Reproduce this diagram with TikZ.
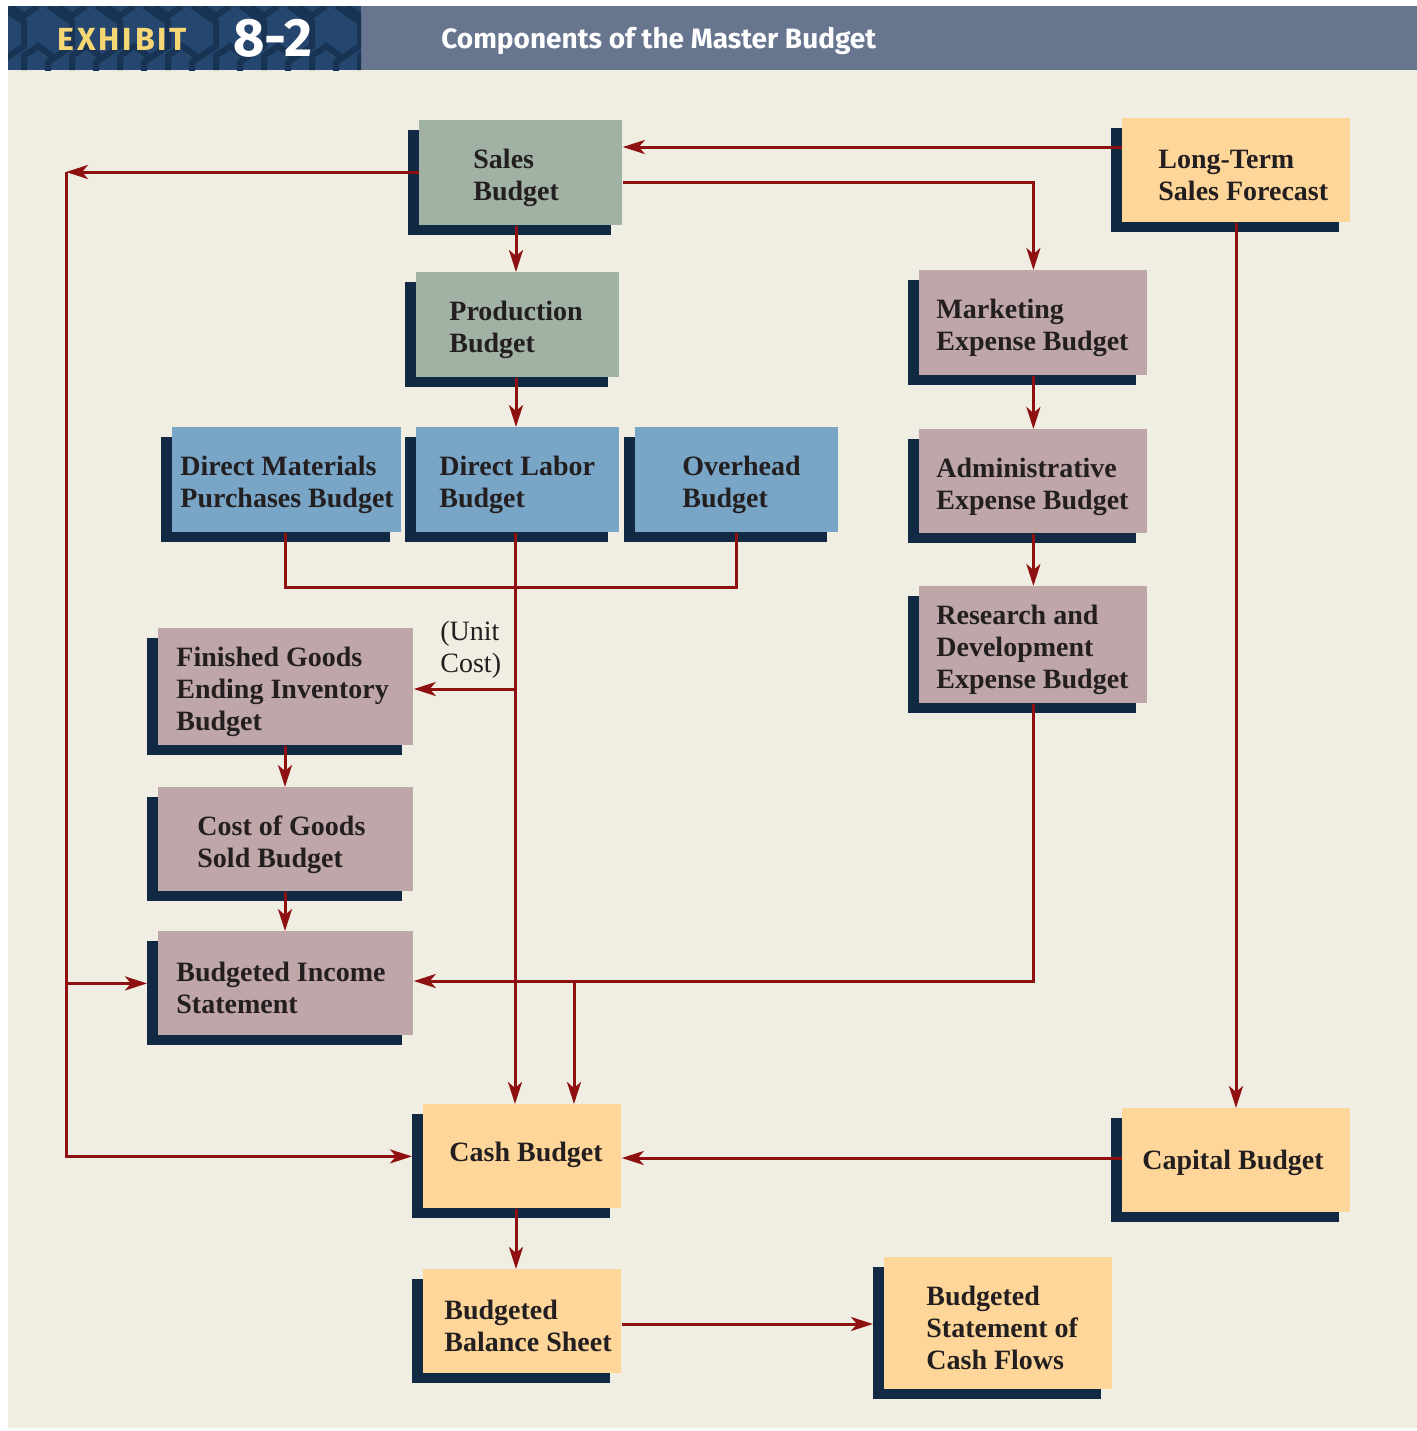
\documentclass[tikz,border=0pt]{standalone}
\usepackage{fontspec}
\setmainfont{Liberation Serif}
\newfontfamily\bandfont{Fira Sans}
\newfontfamily\exfont{Fira Sans}[LetterSpace=9]
\usetikzlibrary{arrows.meta,positioning,shadows}

\definecolor{pagebeige}{HTML}{F0EDE2}
\definecolor{bandgray}{HTML}{67758F}
\definecolor{bandnavy}{HTML}{25466E}
\definecolor{mazenavy}{HTML}{193354}
\definecolor{exyellow}{HTML}{F7D774}
\definecolor{salesgreen}{HTML}{A1B2A5}
\definecolor{costblue}{HTML}{79A5C7}
\definecolor{expmauve}{HTML}{BFA6A9}
\definecolor{cashyellow}{HTML}{FFD699}
\definecolor{shadownavy}{HTML}{112942}
\definecolor{flowred}{HTML}{8E1010}
\definecolor{inkgray}{HTML}{231F20}

\tikzset{
  budget/.style={anchor=north west, inner sep=0pt,
    drop shadow={shadow xshift=-5.5pt, shadow yshift=-5pt, fill=shadownavy, opacity=1}},
  txt/.style={inner sep=0pt, align=left, text=inkgray, yshift=-2.5pt,
    font=\fontsize{14}{16}\selectfont\bfseries},
  flow/.style={draw=flowred, line width=1.5pt},
  arr/.style={flow, -{Stealth[length=11pt,width=7pt,inset=3pt]}}
}

\begin{document}
\begin{tikzpicture}[x=0.5pt,y=-0.5pt]
  \useasboundingbox (0,0) rectangle (1417,1431);
  % page and title band
  \fill[pagebeige] (8,70) rectangle (1417,1428);
  \fill[bandgray] (361,6) rectangle (1417,70);
  \fill[bandnavy] (8,6) rectangle (361,70);
  \begin{scope}
    \clip (8,6) rectangle (361,70);
    \foreach \i in {-2,...,8}
      \draw[mazenavy, line width=3pt]
        (\i*48,6) -- ++(24,16) -- ++(0,24) -- ++(-24,16) -- ++(0,14);
    \foreach \i in {-2,...,8}
      \draw[mazenavy, line width=3pt]
        (\i*48+24,70) -- ++(0,-14) -- ++(14,-10) -- ++(14,10) (\i*48+10,6) -- ++(14,10) -- ++(14,-10);
  \end{scope}
  \node (exhibit) [anchor=base west, inner sep=0pt, text=exyellow,
    font=\exfont\bfseries\fontsize{16}{16}\selectfont] at (57,50) {EXHIBIT};
  \node (exno) [anchor=base west, inner sep=0pt, text=white,
    font=\bandfont\bfseries\fontsize{27}{27}\selectfont] at (233,56) {8-2};
  \node (title) [anchor=base west, inner sep=0pt, text=white,
    font=\bandfont\bfseries\fontsize{14}{14}\selectfont] at (441,48) {Components of the Master Budget};

  % budget boxes
  \node (sales) [budget, fill=salesgreen, minimum width=101.5pt, minimum height=52.5pt] at (419,120) {};
  \node (ltsf) [budget, fill=cashyellow, minimum width=114pt, minimum height=52pt] at (1122,118) {};
  \node (prod) [budget, fill=salesgreen, minimum width=101.5pt, minimum height=52.5pt] at (416,272) {};
  \node (mkt) [budget, fill=expmauve, minimum width=114pt, minimum height=52.5pt] at (919,270) {};
  \node (dm) [budget, fill=costblue, minimum width=114.5pt, minimum height=52.5pt] at (172,427) {};
  \node (dl) [budget, fill=costblue, minimum width=101.5pt, minimum height=52.5pt] at (416,427) {};
  \node (oh) [budget, fill=costblue, minimum width=101.5pt, minimum height=52.5pt] at (635,427) {};
  \node (adm) [budget, fill=expmauve, minimum width=114pt, minimum height=52pt] at (919,429) {};
  \node (rd) [budget, fill=expmauve, minimum width=114pt, minimum height=58.5pt] at (919,586) {};
  \node (fg) [budget, fill=expmauve, minimum width=127.5pt, minimum height=58.5pt] at (158,628) {};
  \node (cogs) [budget, fill=expmauve, minimum width=127.5pt, minimum height=52pt] at (158,787) {};
  \node (bis) [budget, fill=expmauve, minimum width=127.5pt, minimum height=52pt] at (158,931) {};
  \node (cash) [budget, fill=cashyellow, minimum width=99pt, minimum height=52pt] at (423,1104) {};
  \node (cap) [budget, fill=cashyellow, minimum width=114pt, minimum height=52pt] at (1122,1108) {};
  \node (bbs) [budget, fill=cashyellow, minimum width=99pt, minimum height=52pt] at (423,1269) {};
  \node (bscf) [budget, fill=cashyellow, minimum width=114pt, minimum height=66pt] at (884,1257) {};

  % box texts
  \node (sales-t) [txt, right=27pt of sales.west] {Sales\\Budget};
  \node (ltsf-t) [txt, right=18pt of ltsf.west] {Long-Term\\Sales Forecast};
  \node (prod-t) [txt, right=16.5pt of prod.west] {Production\\Budget};
  \node (mkt-t) [txt, right=8.5pt of mkt.west] {Marketing\\Expense Budget};
  \node (dm-t) [txt, right=4pt of dm.west] {Direct Materials\\Purchases Budget};
  \node (dl-t) [txt, right=11.5pt of dl.west] {Direct Labor\\Budget};
  \node (oh-t) [txt, right=23.5pt of oh.west] {Overhead\\Budget};
  \node (adm-t) [txt, right=8.5pt of adm.west] {Administrative\\Expense Budget};
  \node (rd-t) [txt, right=8.5pt of rd.west] {Research and\\Development\\Expense Budget};
  \node (fg-t) [txt, right=9pt of fg.west] {Finished Goods\\Ending Inventory\\Budget};
  \node (cogs-t) [txt, right=19.5pt of cogs.west] {Cost of Goods\\Sold Budget};
  \node (bis-t) [txt, right=9pt of bis.west] {Budgeted Income\\Statement};
  \node (cash-t) [txt, right=13pt of cash.west, yshift=3.5pt] {Cash Budget};
  \node (cap-t) [txt, right=10pt of cap.west, yshift=1.5pt] {Capital Budget};
  \node (bbs-t) [txt, right=10.5pt of bbs.west] {Budgeted\\Balance Sheet};
  \node (bscf-t) [txt, right=21pt of bscf.west] {Budgeted\\Statement of\\Cash Flows};
  \node (unitcost) [anchor=north west, inner sep=0pt, align=left, text=inkgray,
    font=\fontsize{14}{16}\selectfont] at (440,621) {(Unit\\Cost)};

  % flows
  \coordinate (lrail) at (66,172);
  \draw[arr] (ltsf.west |- 0,147) -- (sales.east |- 0,147);
  \draw[arr] (sales.east |- 0,182) -| (mkt.north);
  \draw[arr] (sales.west |- lrail) -- (lrail);
  \draw[arr] (lrail) |- ([xshift=-5.5pt]cash.west);
  \draw[arr] (lrail |- bis.west) -- ([xshift=-5.5pt]bis.west);
  \draw[arr] (sales.south -| 516,0) -- (prod.north -| 516,0);
  \draw[arr] (prod.south -| 516,0) -- (dl.north -| 516,0);
  \draw[arr] (mkt) -- (adm);
  \draw[arr] (adm) -- (rd);
  \draw[flow] (dm.south -| 285,0) -- (285,587) -- (736,587) -- (oh.south -| 736,0);
  \draw[arr] (dl.south -| 515,0) -- (cash.north -| 515,0);
  \draw[arr] (515,689) -- (fg.east |- 0,689);
  \draw[arr] (fg.south -| 285,0) -- (cogs.north -| 285,0);
  \draw[arr] (cogs.south -| 285,0) -- (bis.north -| 285,0);
  \draw[arr] (rd.south) |- (bis.east |- 0,981);
  \draw[arr] (574,981) -- (cash.north -| 574,0);
  \draw[arr] (ltsf.south -| 1236,0) -- (cap.north -| 1236,0);
  \draw[arr] (cap.west |- 0,1158) -- (cash.east |- 0,1158);
  \draw[arr] (cash.south -| 516,0) -- (bbs.north -| 516,0);
  \draw[arr] (bbs.east |- 0,1324) -- ([xshift=-5.5pt]bscf.west |- 0,1324);
\end{tikzpicture}
\end{document}
